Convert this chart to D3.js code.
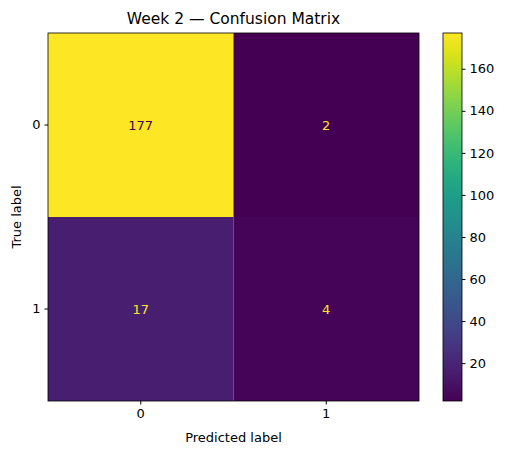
<!DOCTYPE html>
<html>
<head>
<meta charset="utf-8">
<script src="https://cdn.jsdelivr.net/npm/d3@7"></script>
<style>
  body { margin: 0; background: #fff; }
  text { font-family: "DejaVu Sans", sans-serif; }
</style>
</head>
<body>
<div id="chart"></div>
<script>
var svgWidth = 507;
var svgHeight = 455;

// data
var trueLabels = ["0", "1"];
var predLabels = ["0", "1"];
var counts = [[177, 2], [17, 4]];
var colorTicks = [20, 40, 60, 80, 100, 120, 140, 160];

var plot = { left: 48, top: 33, right: 419, bottom: 401 };
var cbar = { left: 443, right: 462 };

var svg = d3.select("#chart").append("svg")
  .attr("width", svgWidth)
  .attr("height", svgHeight);

var cells = [];
counts.forEach(function(row, i) {
  row.forEach(function(v, j) {
    cells.push({ t: trueLabels[i], p: predLabels[j], v: v });
  });
});

var vMin = d3.min(cells, d => d.v);
var vMax = d3.max(cells, d => d.v);

var xScale = d3.scaleBand().domain(predLabels).range([plot.left, plot.right]);
var yScale = d3.scaleBand().domain(trueLabels).range([plot.top, plot.bottom]);
var color = d3.scaleSequential(d3.interpolateViridis).domain([vMin, vMax]);

// cells
svg.selectAll("rect.cell")
  .data(cells)
  .enter()
  .append("rect")
  .attr("class", "cell")
  .attr("x", d => xScale(d.p))
  .attr("y", d => yScale(d.t))
  .attr("width", xScale.bandwidth())
  .attr("height", yScale.bandwidth())
  .attr("fill", d => color(d.v));

// cell text: dark on bright cells, yellow on dark ones
svg.selectAll("text.val")
  .data(cells)
  .enter()
  .append("text")
  .attr("class", "val")
  .attr("x", d => xScale(d.p) + xScale.bandwidth() / 2)
  .attr("y", d => yScale(d.t) + yScale.bandwidth() / 2)
  .attr("dy", "0.35em")
  .attr("text-anchor", "middle")
  .attr("font-size", "13px")
  .attr("fill", d => d.v > (vMin + vMax) / 2 ? color(vMin) : color(vMax))
  .text(d => d.v);

svg.append("rect")
  .attr("x", plot.left).attr("y", plot.top)
  .attr("width", plot.right - plot.left).attr("height", plot.bottom - plot.top)
  .attr("fill", "none").attr("stroke", "#000").attr("stroke-width", 0.8);

// axes
var xAxis = svg.append("g")
  .attr("transform", `translate(0, ${plot.bottom})`)
  .call(d3.axisBottom(xScale).tickSizeOuter(0).tickSize(3.5).tickPadding(4));
var yAxis = svg.append("g")
  .attr("transform", `translate(${plot.left}, 0)`)
  .call(d3.axisLeft(yScale).tickSizeOuter(0).tickSize(3.5).tickPadding(4));
[xAxis, yAxis].forEach(function(a) {
  a.select(".domain").remove();
  a.selectAll("text").attr("font-size", "13px").attr("fill", "#000")
    .style("font-family", "DejaVu Sans");
});

svg.append("text")
  .attr("x", (plot.left + plot.right) / 2)
  .attr("y", 442)
  .attr("text-anchor", "middle")
  .attr("font-size", "13px")
  .text("Predicted label");

svg.append("text")
  .attr("transform", "rotate(-90)")
  .attr("x", -(plot.top + plot.bottom) / 2)
  .attr("y", 21)
  .attr("text-anchor", "middle")
  .attr("font-size", "13px")
  .text("True label");

svg.append("text")
  .attr("x", (plot.left + plot.right) / 2)
  .attr("y", 24)
  .attr("text-anchor", "middle")
  .attr("font-size", "15.5px")
  .text("Week 2 \u2014 Confusion Matrix");

// colorbar
var cScale = d3.scaleLinear().domain([vMin, vMax]).range([plot.bottom, plot.top]);
var defs = svg.append("defs");
var grad = defs.append("linearGradient")
  .attr("id", "cbgrad")
  .attr("x1", 0).attr("y1", 1).attr("x2", 0).attr("y2", 0);
d3.range(0, 1.0001, 0.05).forEach(function(t) {
  grad.append("stop")
    .attr("offset", t)
    .attr("stop-color", d3.interpolateViridis(t));
});
svg.append("rect")
  .attr("x", cbar.left).attr("y", plot.top)
  .attr("width", cbar.right - cbar.left).attr("height", plot.bottom - plot.top)
  .attr("fill", "url(#cbgrad)")
  .attr("stroke", "#000").attr("stroke-width", 0.8);

var cAxis = svg.append("g")
  .attr("transform", `translate(${cbar.right}, 0)`)
  .call(d3.axisRight(cScale).tickValues(colorTicks).tickSize(3.5).tickPadding(4));
cAxis.select(".domain").remove();
cAxis.selectAll("text").attr("font-size", "13px").attr("fill", "#000")
  .style("font-family", "DejaVu Sans");
</script>
</body>
</html>
